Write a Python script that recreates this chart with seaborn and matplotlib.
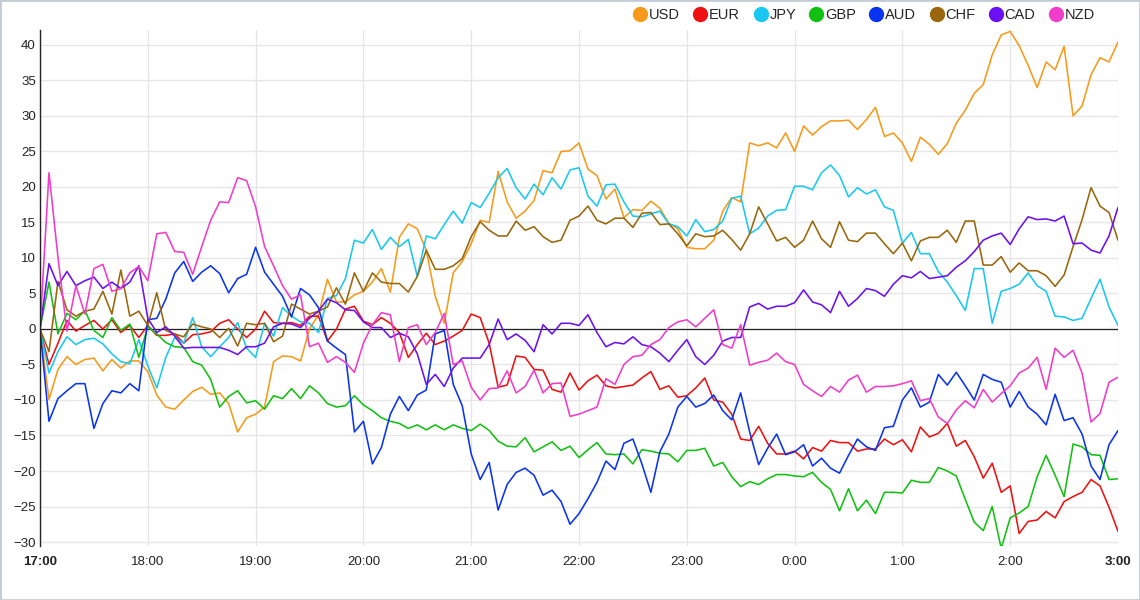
import numpy as np
import pandas as pd
import matplotlib
matplotlib.use("Agg")
import matplotlib.pyplot as plt
import seaborn as sns
from matplotlib.lines import Line2D
from matplotlib.patches import Rectangle

# Currency strength index, 17:00 -> 3:00, one point every 5 minutes
currencies = ["USD", "EUR", "JPY", "GBP", "AUD", "CHF", "CAD", "NZD"]
colors = ["#f59a1a", "#ee1111", "#18c8f0", "#12c012", "#0a33f0", "#99660c", "#6a10f2", "#f03cc8"]
hour_labels = ["17:00", "18:00", "19:00", "20:00", "21:00", "22:00", "23:00",
               "0:00", "1:00", "2:00", "3:00"]
step_minutes = 5

usd = [0, -9.9, -5.7, -3.9, -5.0, -4.3, -4.1, -5.9, -4.3, -5.5, -4.5, -4.5,
       -6, -9.3, -11, -11.3, -10, -8.8, -8.2, -9.2, -9, -10.5, -14.5, -12.5,
       -12, -11, -4.6, -3.8, -3.9, -4.5, 0, 2, 7, 3.8, 3.8, 4.8,
       5.3, 6.6, 8.5, 5.2, 12.9, 14.8, 14.1, 11.1, 4.6, 0.8, 7.9, 9.5,
       12, 15.3, 15, 22.2, 17.9, 15.6, 16.6, 18.1, 22.3, 22, 25, 25.1,
       26.2, 22.5, 21.6, 18.3, 19.7, 15.7, 16.8, 16.7, 18, 17, 14.9, 14.1,
       11.5, 11.3, 11.3, 12.5, 16.6, 18.5, 17.9, 26.2, 25.8, 26.2, 25.5, 27.6,
       25, 28.6, 27.3, 28.5, 29.3, 29.3, 29.4, 28.1, 29.5, 31.2, 27.1, 27.6,
       26.2, 23.6, 27, 26, 24.6, 26.1, 29, 30.8, 33.2, 34.4, 38.6, 41.4,
       41.9, 39.9, 37.1, 34, 37.6, 36.5, 39.8, 30, 31.4, 35.8, 38.2, 37.6,
       40.4]
eur = [0, -5, -2, 1.2, -0.3, 0.5, 1.2, 0, 1.3, -0.5, 0.5, -1.2,
       0.5, -0.9, -0.9, -0.7, -2, -0.8, -0.7, -0.4, 0.8, 1.3, 0, -1.2,
       0, 2.5, 0.9, 0.8, 0.9, 0.5, 1.8, 1.8, -1.7, 0, 2.8, 3.2,
       1.1, 0.6, 1.6, 0.8, -0.5, -4, -2.2, -0.6, -2.2, -1.7, -1, -0.2,
       2.1, 1.6, -2, -8.2, -7.9, -3.8, -4, -5.7, -5.8, -8.5, -8.9, -6.2,
       -8.6, -7.3, -6.5, -8, -8.3, -8.1, -7.9, -6.9, -6, -8.5, -8, -9.6,
       -9.4, -8.3, -6.9, -10, -10.3, -12, -15.5, -15.7, -13.7, -16.1, -17.6, -17.6,
       -17.2, -18.3, -16.7, -17.2, -15.7, -16, -16, -17.2, -16.9, -16.9, -15.5, -16.3,
       -15.6, -17.3, -13.8, -15.2, -14.7, -13.3, -16.5, -15.7, -18, -21, -18.9, -23,
       -22.1, -28.8, -27.1, -26.9, -25.7, -26.6, -24.3, -23.6, -23, -21.2, -22.1, -25.1,
       -28.5]
jpy = [0, -6.2, -3.2, -1.1, -2.2, -1.5, -1.3, -2.1, -3.5, -4.6, -4.9, -1.5,
       -5.2, -8.3, -4, -1.2, -2, 1.6, -2.5, -3.9, -2.5, -1.2, 0.9, -2.7,
       -4, 0.8, -1, 3, 1.8, 1, 0.8, -0.5, 4.3, 4.7, 7.1, 12.5,
       12.1, 14, 11.2, 12.9, 11.6, 12.6, 7.4, 13.1, 12.7, 14.7, 16.6, 14.9,
       17.8, 17.1, 19.1, 21.3, 22.6, 19.9, 18.3, 20.4, 18.9, 21.3, 19.7, 22.4,
       22.7, 18.7, 17.3, 20.3, 20.4, 17.9, 15.9, 15.8, 16.2, 16.6, 14.8, 14.4,
       13.1, 15.4, 13.7, 14, 15.2, 18.4, 18.7, 13.4, 14.2, 15.9, 16.7, 16.8,
       20.1, 20.1, 19.6, 22, 23.1, 21.6, 18.6, 19.9, 19, 19.6, 17.2, 16.7,
       12.1, 13.6, 10.6, 10.6, 8.1, 6.6, 4.7, 2.6, 8.5, 8.5, 0.8, 5.3,
       5.7, 6.3, 7.9, 6.1, 5.3, 1.8, 1.7, 1.2, 1.5, 4.3, 7, 3.1,
       0.5]
gbp = [0, 6.6, -0.7, 2.2, 1.3, 2.6, -0.2, -1.2, 1.6, -0.2, 0.7, -4,
       0.3, -0.7, -1.9, -2.5, -2.6, -4.6, -5.1, -7.1, -11, -9.5, -8.7, -10.4,
       -10.1, -11.3, -9.4, -9.8, -8.4, -9.8, -8, -9, -10.5, -11, -10.8, -9.4,
       -10.7, -11.5, -12.5, -13, -13.3, -14, -13.5, -14.2, -13.5, -14.2, -13.5, -14,
       -14.3, -13.4, -14.3, -15.8, -16.5, -16.6, -15.3, -17.3, -16.6, -15.9, -17.1, -16.5,
       -18.1, -17, -16, -17.6, -17.7, -17.6, -19, -17, -17.2, -17.5, -17.6, -18.7,
       -17.1, -17.1, -16.8, -19.3, -18.8, -20.8, -22.2, -21.5, -21.9, -21.1, -20.5, -20.5,
       -20.7, -20.8, -20.2, -21.6, -22.6, -25.6, -22.5, -25.6, -24.1, -26, -23, -23,
       -23.1, -21.3, -21.6, -21.6, -19.5, -20, -20.7, -24, -27.2, -28.4, -25, -30.9,
       -26.6, -25.9, -25, -20.8, -17.8, -20.6, -23.6, -16.2, -16.6, -17.7, -17.8, -21.2,
       -21.1]
aud = [0, -13, -9.8, -8.7, -7.7, -7.7, -14, -10.5, -8.7, -9, -7.7, -8.7,
       1.3, 1.5, 4.2, 7.9, 9.5, 6.7, 8, 8.9, 7.8, 5.1, 7.1, 7.7,
       11.5, 8, 6.3, 4.6, 1.7, 5.7, 4.8, 3, -1.7, -2.7, -3.6, -14.5,
       -13, -19, -16.7, -12, -9.5, -11.5, -9.3, -8.6, -0.7, -0.2, -7.8, -10.8,
       -17.6, -21.2, -18.8, -25.5, -21.9, -20.2, -19.6, -20.6, -23.4, -22.7, -24.3, -27.5,
       -26, -23.9, -21.6, -18.6, -19.8, -16.1, -15.5, -19, -23, -17.3, -14.8, -11,
       -9.5, -11, -10.5, -9.3, -11.5, -12.8, -9, -14.5, -19.1, -16.8, -14.8, -17.7,
       -17.3, -16.3, -19.3, -18.2, -19.6, -20.3, -17.8, -15.5, -16.6, -17.1, -13.9, -13.7,
       -10, -8.3, -11, -10.3, -6.4, -7.9, -6.1, -8, -10, -6.4, -7.1, -7.5,
       -11, -8.8, -11, -12, -13.5, -9.2, -12.9, -12.5, -14.8, -19.3, -21.2, -16.3,
       -14.3]
chf = [0, -3.2, 6.7, 2.7, 1.8, 2.5, 2.8, 5.3, 2.1, 8.3, 1.8, 2.5,
       0.5, 5.1, -0.2, -0.7, -1.1, 0.7, 0.3, 0, -1.2, 0.1, -2.4, 0.8,
       0.6, 0.8, -1.8, -1, 3.5, 2.8, 2.1, 2.5, 3.1, 5.8, 3.5, 7.9,
       5.3, 7.9, 6.6, 6.4, 6.4, 5.2, 7.4, 11.1, 8.4, 8.4, 8.9, 9.9,
       13, 15.1, 13.9, 13.1, 13.1, 15.2, 13.9, 14.4, 13, 12.2, 12.5, 15.3,
       15.9, 17.3, 15.3, 14.8, 15.6, 15.6, 14.3, 16.3, 16.4, 14.7, 14.8, 13.4,
       11.7, 13.4, 13, 13.1, 13.9, 12.6, 11.1, 13.4, 17.2, 14.8, 12.4, 12.9,
       11.5, 12.5, 15.2, 12.7, 11.5, 15.1, 12.5, 12.3, 13.5, 13.5, 12, 10.6,
       12.1, 9.6, 12.4, 12.9, 12.9, 13.9, 12.2, 15.2, 15.2, 9, 9, 10.2,
       8, 9.3, 8.2, 8.2, 7.5, 6, 7.6, 11.6, 15.4, 19.9, 17.3, 16.4,
       12.5]
cad = [0, 9.2, 6.1, 8.1, 6.1, 6.8, 7.3, 5.7, 6.6, 5.7, 6.6, 8.9,
       1.5, -0.5, 0.3, -1, -2.7, -2.6, -2.6, -2.6, -2.6, -3, -3.6, -2.5,
       -2.5, -2, 0.3, 0.8, 0.7, 0.2, 1.5, 2.5, 4.2, 3.7, 2.7, 2.6,
       1, 0.2, 0.2, -1.2, -0.6, -1.1, -3.5, -7.8, -6.4, -8.1, -5.5, -4.1,
       -4.1, -4.1, -2.2, 1.4, -1.5, -0.7, -1.6, -3.2, 0.6, -0.7, 0.8, 0.8,
       0.5, 2, -0.5, -2.5, -1.9, -2.1, -1.1, -2.2, -2.5, -3.4, -4.6, -3,
       -1.5, -3.9, -5, -3.7, -1.7, -1.2, -1.2, 3.1, 3.6, 2.8, 3.2, 3.2,
       3.7, 5.5, 3.8, 3.4, 2.3, 5.3, 3.2, 4.3, 5.7, 5.4, 4.6, 6.3,
       7.5, 7.2, 8.1, 7.1, 7.3, 7.5, 8.7, 9.6, 10.9, 12.5, 13.1, 13.5,
       11.9, 14.1, 15.8, 15.4, 15.5, 15.2, 15.9, 12, 12.1, 11.1, 10.7, 13.1,
       17.1]
nzd = [0, 22, 10.1, -0.3, 6.1, 2.1, 8.5, 9.1, 5.3, 5.7, 7.9, 8.8,
       6.8, 13.4, 13.6, 10.9, 10.8, 7.7, 11.6, 15.3, 17.9, 17.8, 21.3, 20.9,
       17.2, 11.6, 8.9, 6.1, 4.2, 4.8, -2.5, -2, -4.7, -3.9, -4.7, -6.1,
       -2, 0.6, 2.3, 2, -4.6, 0.2, 0.6, -2.2, -0.5, 2.2, -5, -4.5,
       -8.2, -10, -8.4, -8.3, -5.9, -9, -8.1, -5.8, -9, -7.7, -7.6, -12.3,
       -12, -11.5, -11, -7, -7.8, -5, -3.9, -3.7, -2.2, -1.5, 0.2, 1,
       1.3, 0.3, 1.5, 2.7, -2.2, -2.7, 0.6, -5.1, -4.7, -4.4, -3.4, -4.6,
       -5, -7.8, -8.7, -9.5, -8.1, -8.9, -7.2, -6.5, -8.9, -8.1, -8.1, -8,
       -7.7, -7.3, -10.1, -9.8, -12.4, -13.3, -11.4, -10.1, -11.1, -8.5, -10.3, -9.1,
       -8, -6.2, -5.5, -4, -8.5, -2.7, -4, -3, -6.2, -13.1, -11.9, -7.5,
       -6.8]

values = [usd, eur, jpy, gbp, aud, chf, cad, nzd]
minutes = np.arange(len(usd)) * step_minutes
df = pd.DataFrame({
    "minute": np.tile(minutes, len(currencies)),
    "currency": np.repeat(currencies, len(usd)),
    "value": np.concatenate(values),
})
palette = dict(zip(currencies, colors))

sns.set_theme(style="white")
plt.rcParams["font.family"] = ["Liberation Sans", "DejaVu Sans"]

W, H = 1140, 600
fig = plt.figure(figsize=(W / 100, H / 100), dpi=100)
ax = fig.add_axes([40 / W, 54 / H, 1078 / W, 516 / H])

ax.grid(True, color="#e6e6e6", lw=1)
ax.set_axisbelow(True)
sns.lineplot(data=df, x="minute", y="value", hue="currency", hue_order=currencies,
             palette=palette, linewidth=1.15, legend=False, ax=ax)
ax.axhline(0, color="#222222", lw=0.9, zorder=1.5)

ax.set_xlim(0, 600)
ax.set_ylim(-30.56, 42.1)
ax.set_xticks(np.arange(0, 601, 60))
ax.set_xticklabels(hour_labels)
ax.set_yticks(np.arange(-30, 41, 5))
ax.set_xlabel("")
ax.set_ylabel("")
ax.tick_params(axis="both", length=0, labelsize=9.5, colors="#222222")
ax.tick_params(axis="x", pad=7)
ax.tick_params(axis="y", pad=3)
for lbl in (ax.get_xticklabels()[0], ax.get_xticklabels()[-1]):
    lbl.set_fontweight("bold")

for side in ("top", "right", "bottom"):
    ax.spines[side].set_visible(False)
ax.spines["left"].set_color("#222222")
ax.spines["left"].set_linewidth(1)

handles = [Line2D([], [], marker="o", ls="", color=c, markersize=10) for c in colors]
fig.legend(handles, currencies, loc="center right", bbox_to_anchor=(1095 / W, 1 - 15 / H),
           ncol=len(currencies), frameon=False, fontsize=10.5, handletextpad=0.1,
           columnspacing=0.9, borderpad=0, borderaxespad=0, handlelength=1.0)

fig.patches.append(Rectangle((0, 0), 1, 1, transform=fig.transFigure, fill=False,
                             edgecolor="#c3ccd6", lw=2))

fig.savefig("out.png", dpi=100)
